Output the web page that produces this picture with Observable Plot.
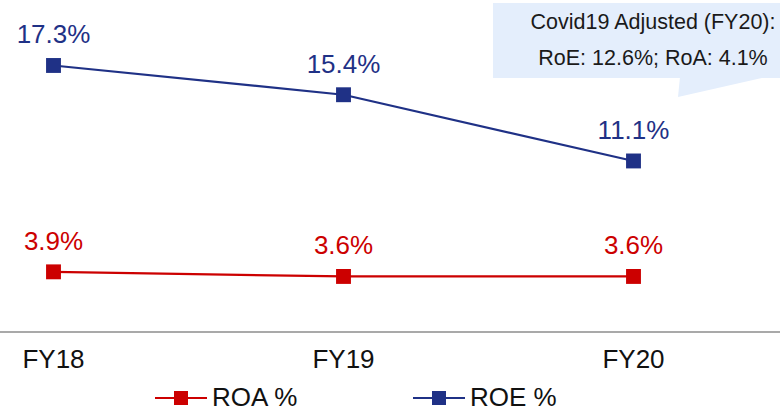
<!DOCTYPE html>
<html><head><meta charset="utf-8">
<script src="https://cdn.jsdelivr.net/npm/d3@7"></script>
<script src="https://cdn.jsdelivr.net/npm/@observablehq/plot@0.6"></script>
<style>
body{margin:0;background:#fff;font-family:"Liberation Sans",Arial,sans-serif;overflow:hidden}
#wrap{position:relative;width:780px;height:414px;overflow:hidden}
#chart{position:absolute;left:0;top:0}
.callout{position:absolute;left:493px;top:3px;width:320px;height:75px;background:#E4EEFC;color:#1a1a1a;font-size:21.5px;box-sizing:border-box}
.callout div{position:absolute;left:0;width:320px;text-align:center;white-space:nowrap}
.ptr{position:absolute;left:0;top:0}
.legend{position:absolute;left:0;top:385px;width:780px;height:24px}
.item{position:absolute;top:0;height:24px;display:flex;align-items:center;font-size:26px;color:#111}
.item svg{margin-right:5px;display:block}
.item span{display:block;line-height:24px;height:24px}
</style></head>
<body><div id="wrap"><div id="chart"></div></div>
<script>
const years = ["FY18", "FY19", "FY20"];
const roe = [17.3, 15.4, 11.1];
const roa = [3.9, 3.6, 3.6];
const seriesNames = ["ROA %", "ROE %"];
const seriesColors = ["#CC0000", "#1F3186"];
const calloutLines = ["Covid19 Adjusted (FY20):", "RoE: 12.6%; RoA: 4.1%"];

const data = [
  ...years.map((y, i) => ({year: y, value: roa[i], series: seriesNames[0]})),
  ...years.map((y, i) => ({year: y, value: roe[i], series: seriesNames[1]}))
];
const color = s => seriesColors[seriesNames.indexOf(s)];

const chart = Plot.plot({
  width: 780,
  height: 385,
  marginLeft: 0,
  marginRight: 0,
  marginTop: 0,
  marginBottom: 53.6,
  style: {fontFamily: "'Liberation Sans', Arial, sans-serif", background: "transparent"},
  x: {type: "point", domain: years, range: [53, 633], padding: 0},
  y: {domain: [0, 20], range: [331.4, 23.4], axis: null},
  marks: [
    Plot.ruleY([0], {stroke: "#8c8c8c", strokeWidth: 1.5}),
    Plot.axisX({tickSize: 0, tickPadding: 18, fontSize: 26, fill: "#111", label: null}),
    Plot.line(data, {x: "year", y: "value", z: "series", stroke: d => color(d.series), strokeWidth: 2.2}),
    Plot.dot(data, {x: "year", y: "value", symbol: "square", r: 8.4, fill: d => color(d.series), stroke: "none"}),
    Plot.text(data, {x: "year", y: "value", text: d => d.value.toFixed(1) + "%", fill: d => color(d.series),
      fontSize: 26, lineAnchor: "bottom", dy: -22})
  ]
});
document.getElementById("chart").appendChild(chart);

// callout annotation
const wrap = document.getElementById("wrap");
const ptr = document.createElementNS("http://www.w3.org/2000/svg", "svg");
ptr.setAttribute("class", "ptr");
ptr.setAttribute("width", 780); ptr.setAttribute("height", 110);
ptr.innerHTML = '<polygon points="680,77 766,77 678,97" fill="#E4EEFC"/>';
wrap.appendChild(ptr);
const co = document.createElement("div");
co.className = "callout";
calloutLines.forEach((t, i) => {
  const d = document.createElement("div");
  d.textContent = t;
  d.style.top = (i === 0 ? 7 : 43) + "px";
  co.appendChild(d);
});
wrap.appendChild(co);

// legend
const lg = document.createElement("div");
lg.className = "legend";
const lefts = [155, 413];
seriesNames.forEach((s, i) => {
  const it = document.createElement("div");
  it.className = "item";
  it.style.left = lefts[i] + "px";
  const c = seriesColors[i];
  it.innerHTML = `<svg width="52" height="24"><line x1="0" y1="13" x2="52" y2="13" stroke="${c}" stroke-width="2.2"/><rect x="19" y="6" width="14" height="14" fill="${c}"/></svg><span>${s}</span>`;
  lg.appendChild(it);
});
wrap.appendChild(lg);
</script></body></html>
